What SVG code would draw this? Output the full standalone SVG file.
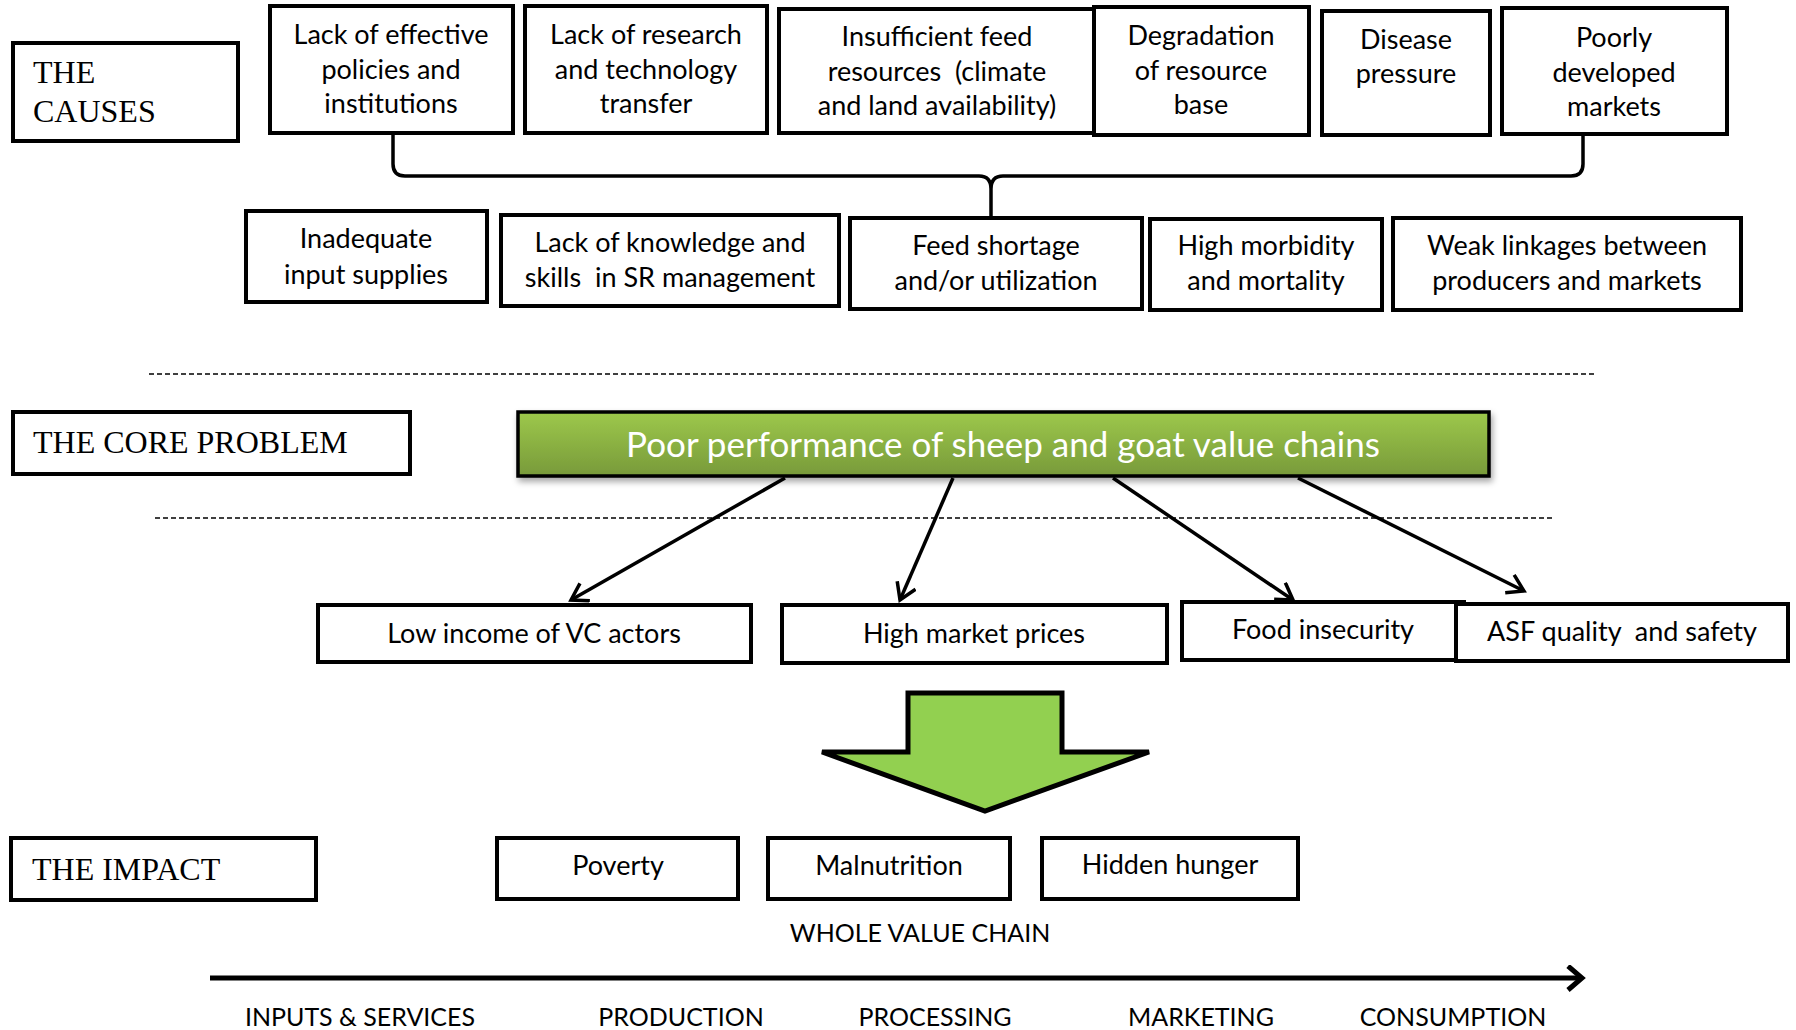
<svg xmlns="http://www.w3.org/2000/svg" width="1796" height="1030" viewBox="0 0 1796 1030">
<defs>
<style>
.box{fill:#fff;stroke:#000;stroke-width:4}
.t{font-family:Lato,"Noto Sans",sans-serif;font-size:27px;fill:#000;text-anchor:middle}
.s{font-size:25px}
.pre{white-space:pre}
.h{font-family:"Liberation Serif","Times New Roman",serif;font-size:32px;fill:#000}
.ln{fill:none;stroke:#000;stroke-width:3.5}
.dash{stroke:#000;stroke-width:1.5;stroke-dasharray:5 3}
</style>
<linearGradient id="g" x1="0" y1="0" x2="0" y2="1">
<stop offset="0" stop-color="#9DC84B"/>
<stop offset="1" stop-color="#789A3A"/>
</linearGradient>
<filter id="sh" x="-5%" y="-20%" width="110%" height="150%">
<feDropShadow dx="2" dy="4" stdDeviation="3" flood-color="#000" flood-opacity="0.35"/>
</filter>
<marker id="ah" markerUnits="userSpaceOnUse" markerWidth="30" markerHeight="30" refX="18" refY="11" orient="auto">
<path d="M2,1 L18,11 L2,21" fill="none" stroke="#000" stroke-width="3.5"/>
</marker>
<marker id="ah2" markerUnits="userSpaceOnUse" markerWidth="30" markerHeight="30" refX="16" refY="13" orient="auto">
<path d="M2,1 L16,13 L2,25" fill="none" stroke="#000" stroke-width="5"/>
</marker>
</defs>
<rect width="1796" height="1030" fill="#fff"/>

<g id="causes-label"><rect class="box" x="13" y="43" width="225" height="98"/><text class="h" x="33" y="83">THE</text><text class="h" x="33" y="122">CAUSES</text></g>

<g id="c1"><rect class="box" x="270" y="6" width="243" height="127"/><text class="t" x="391" y="44">Lack of effective</text><text class="t" x="391" y="79">policies and</text><text class="t" x="391" y="113">institutions</text></g>
<g id="c2"><rect class="box" x="525" y="6" width="242" height="127"/><text class="t" x="646" y="44">Lack of research</text><text class="t" x="646" y="79">and technology</text><text class="t" x="646" y="113">transfer</text></g>
<g id="c3"><rect class="box" x="779" y="9" width="316" height="124"/><text class="t" x="937" y="46">Insufficient feed</text><text class="t pre" x="937" y="81">resources  (climate</text><text class="t" x="937" y="115">and land availability)</text></g>
<g id="c4"><rect class="box" x="1094" y="7" width="215" height="128"/><text class="t" x="1201" y="45">Degradation</text><text class="t" x="1201" y="80">of resource</text><text class="t" x="1201" y="114">base</text></g>
<g id="c5"><rect class="box" x="1322" y="11" width="168" height="124"/><text class="t" x="1406" y="49">Disease</text><text class="t" x="1406" y="83">pressure</text></g>
<g id="c6"><rect class="box" x="1502" y="8" width="225" height="126"/><text class="t" x="1614" y="47">Poorly</text><text class="t" x="1614" y="82">developed</text><text class="t" x="1614" y="116">markets</text></g>

<g id="r1"><rect class="box" x="246" y="211" width="241" height="91"/><text class="t" x="366" y="248">Inadequate</text><text class="t" x="366" y="284">input supplies</text></g>
<g id="r2"><rect class="box" x="501" y="215" width="338" height="91"/><text class="t" x="670" y="252">Lack of knowledge and</text><text class="t pre" x="670" y="287">skills  in SR management</text></g>
<g id="r3"><rect class="box" x="850" y="218" width="292" height="91"/><text class="t" x="996" y="255">Feed shortage</text><text class="t" x="996" y="290">and/or utilization</text></g>
<g id="r4"><rect class="box" x="1150" y="219" width="232" height="91"/><text class="t" x="1266" y="255">High morbidity</text><text class="t" x="1266" y="290">and mortality</text></g>
<g id="r5"><rect class="box" x="1393" y="218" width="348" height="92"/><text class="t" x="1567" y="255">Weak linkages between</text><text class="t" x="1567" y="290">producers and markets</text></g>

<line class="dash" x1="149" y1="374" x2="1595" y2="374"/>
<line class="dash" x1="155" y1="518" x2="1552" y2="518"/>

<g id="core-label"><rect class="box" x="13" y="412" width="397" height="62"/><text class="h" x="33" y="453">THE CORE PROBLEM</text></g>
<g id="core"><rect x="518" y="412" width="971" height="64" fill="url(#g)" stroke="#000" stroke-width="3.5" filter="url(#sh)"/><text x="1003" y="457" font-family="Lato,'Noto Sans',sans-serif" font-size="35" fill="#fff" text-anchor="middle">Poor performance of sheep and goat value chains</text></g>

<g id="e1"><rect class="box" x="318" y="605" width="433" height="57"/><text class="t" x="534" y="643">Low income of VC actors</text></g>
<g id="e2"><rect class="box" x="782" y="605" width="385" height="58"/><text class="t" x="974" y="643">High market prices</text></g>
<g id="e3"><rect class="box" x="1182" y="602" width="282" height="58"/><text class="t" x="1323" y="639">Food insecurity</text></g>
<g id="e4"><rect class="box" x="1456" y="604" width="332" height="57"/><text class="t pre" x="1622" y="641">ASF quality  and safety</text></g>

<g id="big-arrow"><polygon points="908,693 1062,693 1062,752 1149,752 985,811 822,752 908,752" fill="#92D050" stroke="#000" stroke-width="5" stroke-linejoin="miter"/></g>

<g id="impact-label"><rect class="box" x="11" y="838" width="305" height="62"/><text class="h" x="32" y="880">THE IMPACT</text></g>
<g id="i1"><rect class="box" x="497" y="838" width="241" height="61"/><text class="t" x="618" y="875">Poverty</text></g>
<g id="i2"><rect class="box" x="768" y="838" width="242" height="61"/><text class="t" x="889" y="875">Malnutrition</text></g>
<g id="i3"><rect class="box" x="1042" y="838" width="256" height="61"/><text class="t" x="1170" y="874">Hidden hunger</text></g>

<g id="chain">
<text class="t s" x="920" y="942">WHOLE VALUE CHAIN</text>
<text class="t s" x="360" y="1026">INPUTS &amp; SERVICES</text>
<text class="t s" x="681" y="1026">PRODUCTION</text>
<text class="t s" x="935" y="1026">PROCESSING</text>
<text class="t s" x="1201" y="1026">MARKETING</text>
<text class="t s" x="1453" y="1026">CONSUMPTION</text>
</g>

<g id="connectors">
<path class="ln" d="M393,134 V164 Q393,176 405,176 H979 Q991,176 991,189 V217 M991,189 Q991,176 1003,176 H1571 Q1583,176 1583,164 V134"/>
<line class="ln" x1="785" y1="478" x2="571" y2="600" marker-end="url(#ah)"/>
<line class="ln" x1="953" y1="478" x2="900" y2="600" marker-end="url(#ah)"/>
<line class="ln" x1="1113" y1="478" x2="1293" y2="600" marker-end="url(#ah)"/>
<line class="ln" x1="1298" y1="478" x2="1524" y2="591" marker-end="url(#ah)"/>
<line x1="210" y1="978" x2="1582" y2="978" stroke="#000" stroke-width="5" marker-end="url(#ah2)"/>
</g>
</svg>
